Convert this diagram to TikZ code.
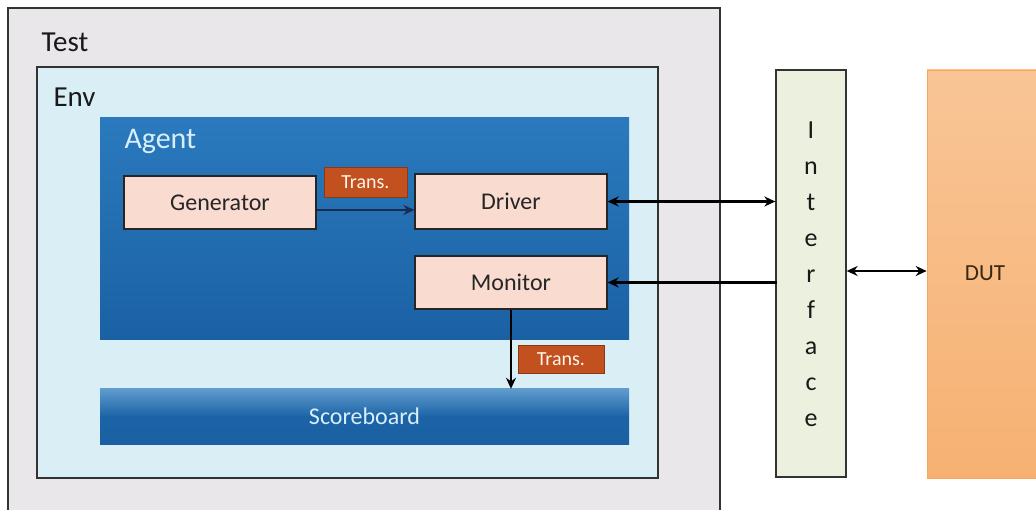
\documentclass[tikz,border=0pt]{standalone}
\usepackage{fontspec}
\setmainfont{Carlito}
\usetikzlibrary{arrows.meta,calc}

\definecolor{testfill}{HTML}{E9E7E9}
\definecolor{envfill}{HTML}{DAEEF5}
\definecolor{agenttop}{HTML}{2A7ABD}
\definecolor{agentbot}{HTML}{1A61A4}
\definecolor{unitfill}{HTML}{FADBD0}
\definecolor{transfill}{HTML}{C2511F}
\definecolor{ifacefill}{HTML}{EBF1DE}
\definecolor{duttop}{HTML}{F9C596}
\definecolor{dutbot}{HTML}{F6B172}
\definecolor{lighttext}{HTML}{D8EEF9}
\definecolor{navy}{HTML}{1B2A55}

\tikzset{
  frame/.style={draw=black!80, line width=1.3pt, inner sep=0pt},
  unitbox/.style={draw=black!85, line width=1.2pt, fill=unitfill, inner sep=0pt,
    minimum width=192pt, font=\fontsize{24}{26}\selectfont, text=black!85},
  transbox/.style={draw=transfill!70!black, line width=0.6pt, fill=transfill, inner sep=0pt,
    font=\fontsize{20}{22}\selectfont, text=white!92!orange},
  bluebox/.style={shading=axis, top color=agenttop, bottom color=agentbot, inner sep=0pt},
  tip/.style={Stealth[length=11pt,width=10pt]},
  link/.style={line width=2.4pt, -{Stealth[length=11pt,width=10pt]}},
  dlink/.style={line width=2.4pt, {Stealth[length=11pt,width=10pt]}-{Stealth[length=11pt,width=10pt]}},
}

\begin{document}
\begin{tikzpicture}[x=1pt,y=-1pt]
\useasboundingbox (0,0) rectangle (1036,510);
\fill[white] (0,0) rectangle (1036,510);

% outer containers
\node[frame, fill=testfill, minimum width=712pt, minimum height=520pt] (test) at (364,268) {};
\node[anchor=west, font=\fontsize{29}{31}\selectfont, text=black!90] (testlbl) at (38,42) {Test};

\node[frame, fill=envfill, minimum width=621pt, minimum height=411pt] (env) at (347.5,272.5) {};
\node[anchor=west, font=\fontsize{29}{31}\selectfont, text=black!90] (envlbl) at (50,97) {Env};

% agent
\node[bluebox, minimum width=529pt, minimum height=222pt] (agent) at (364.5,229) {};
\node[anchor=west, font=\fontsize{30}{32}\selectfont, text=lighttext] (agentlbl) at (121,141) {Agent};

\node[unitbox, minimum height=53pt] (gen) at (220,202.5) {Generator};
\node[unitbox, minimum height=55pt] (drv) at (511,201.5) {Driver};
\node[unitbox, minimum height=53pt] (mon) at (511,282.5) {Monitor};

\node[transbox, minimum width=83pt, minimum height=30pt] (trA) at (365.5,182) {Trans.};

% scoreboard
\node[shading=axis, top color=agenttop!75!white, bottom color=agentbot, middle color=agentbot!90!agenttop,
  inner sep=0pt, minimum width=529pt, minimum height=55pt,
  font=\fontsize{24}{26}\selectfont, text=lighttext]
  (score) at (364.5,416.5) {Scoreboard};
\node[transbox, minimum width=86pt, minimum height=28pt] (trB) at (561,359) {Trans.};

% interface and DUT
\node[draw=black!80, line width=1.3pt, fill=ifacefill, inner sep=0pt,
  minimum width=70pt, minimum height=407pt] (iface) at (811,273.5) {};
\node[align=center, font=\fontsize{26}{36}\selectfont, text=black!90] (ifacelbl) at (811,274)
  {I\\n\\t\\e\\r\\f\\a\\c\\e};

\node[shading=axis, top color=duttop, bottom color=dutbot, draw=dutbot!80!orange, line width=0.6pt,
  inner sep=0pt, minimum width=120pt, minimum height=408pt] (dut) at (987,274) {};
\node[font=\fontsize{23}{25}\selectfont, text=black!70!brown] (dutlbl) at (985,273) {DUT};

% connections
\draw[link, navy] ([yshift=-7.5pt]gen.east) -- ([yshift=-7.5pt]gen.east -| drv.west);
\draw[dlink] (drv.east) -- (drv.east -| iface.west);
\draw[link] ([xshift=2pt]mon.east -| iface.west) -- (mon.east);
\draw[dlink] ([yshift=2.5pt]iface.east) -- ([yshift=2.5pt]iface.east -| dut.west);
\draw[link] (mon.south) -- (mon.south |- score.north);
\end{tikzpicture}
\end{document}
